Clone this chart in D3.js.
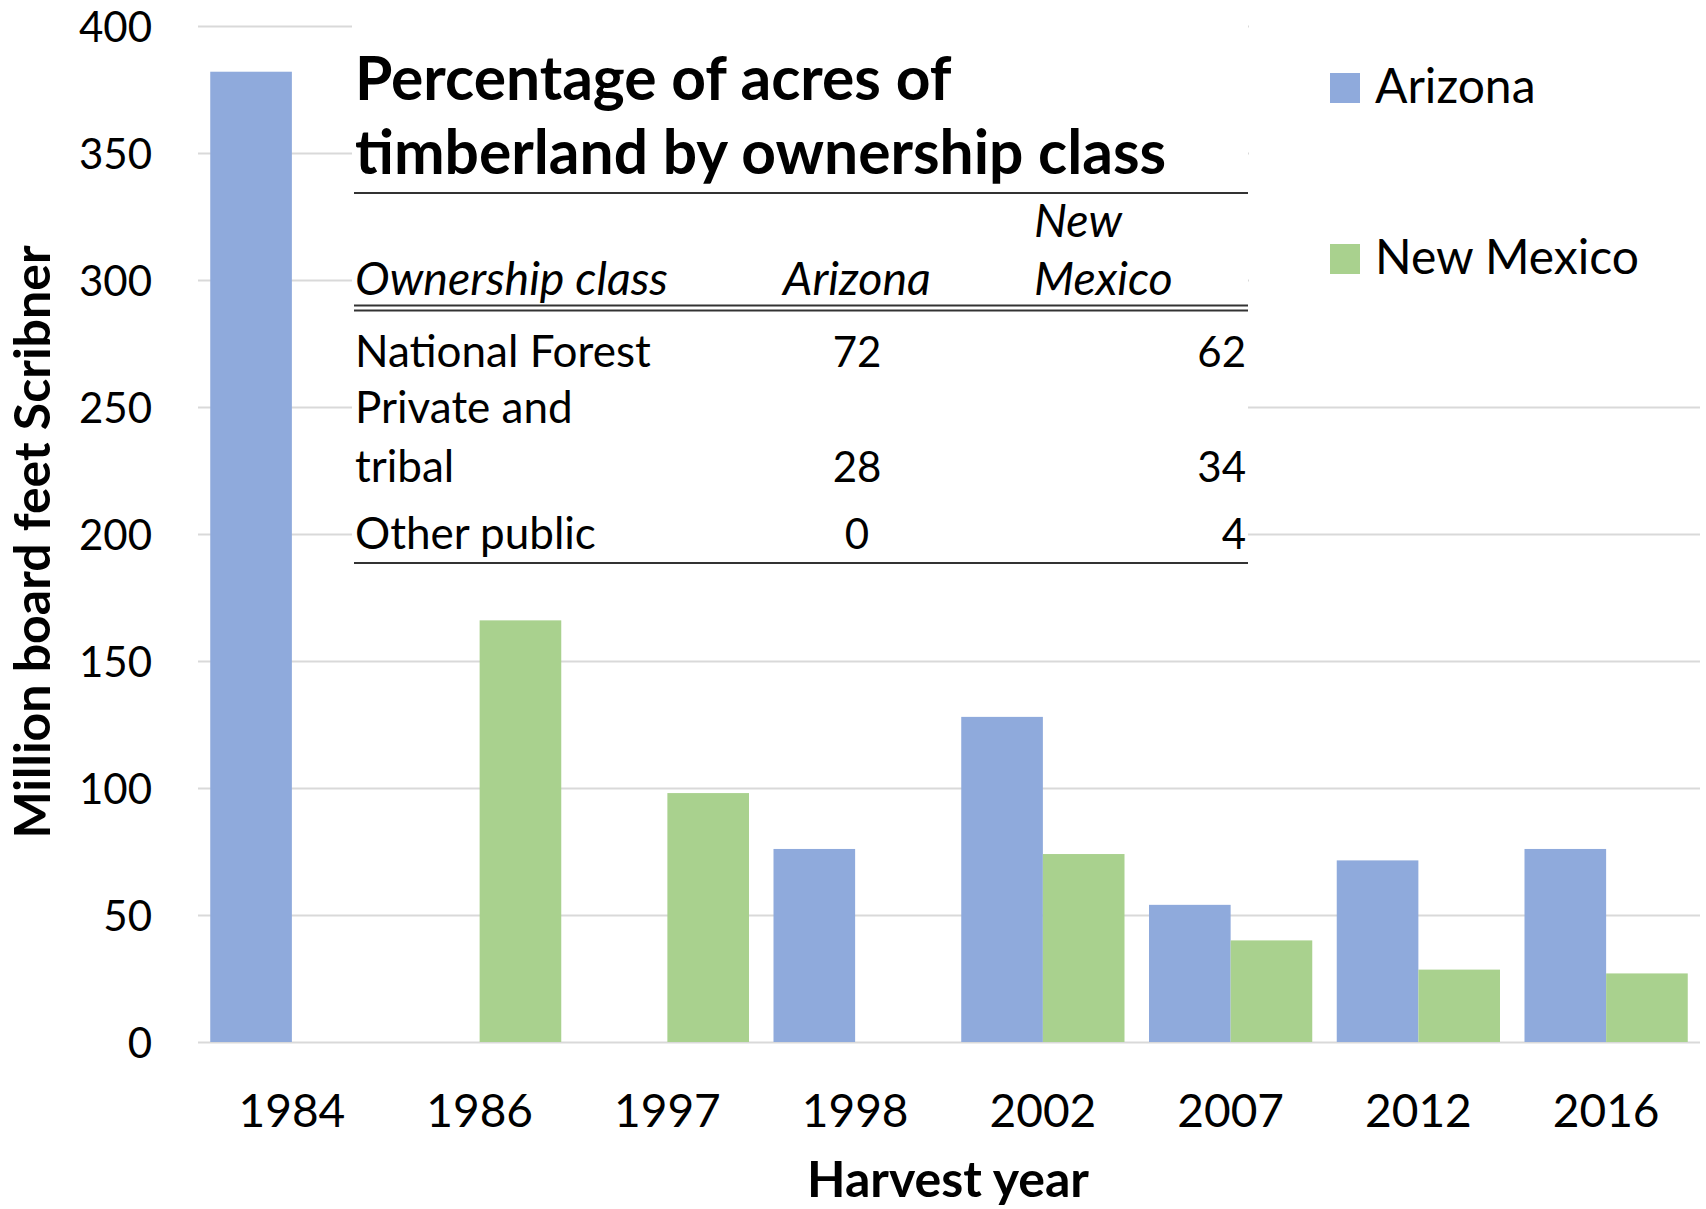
<!DOCTYPE html>
<html>
<head>
<meta charset="utf-8">
<script src="https://cdn.jsdelivr.net/npm/d3@7"></script>
<style>
  body { margin: 0; background: #fff; }
  svg text { font-family: Lato, "Open Sans", sans-serif; fill: #000; }
</style>
</head>
<body>
<div id="chart"></div>
<script>
// harvest by year, million board feet Scribner (null = no survey that year)
var years = ['1984', '1986', '1997', '1998', '2002', '2007', '2012', '2016'];
var arizona = [382, null, null, 76, 128, 54, 71.5, 76];
var newMexico = [null, 166, 98, null, 74, 40, 28.5, 27];
var seriesNames = ['Arizona', 'New Mexico'];
var seriesColors = ['#8faadc', '#a9d18e'];
var yTicks = [0, 50, 100, 150, 200, 250, 300, 350, 400];

// inset table: percentage of acres of timberland by ownership class
var ownershipClass = [['National Forest'], ['Private and', 'tribal'], ['Other public']];
var tableArizona = [72, 28, 0];
var tableNewMexico = [62, 34, 4];

var W = 1706, H = 1209;
var margin = { top: 26, right: 6, bottom: 167, left: 198 };
var width = W - margin.left - margin.right;
var height = H - margin.top - margin.bottom;

var svg = d3.select('#chart').append('svg')
  .attr('width', W)
  .attr('height', H);

var g = svg.append('g')
  .attr('transform', 'translate(' + margin.left + ',' + margin.top + ')');

var x = d3.scaleBand().domain(years).range([0, width]).padding(0);
var x1 = d3.scaleBand().domain(seriesNames).range([0, x.bandwidth()])
  .paddingInner(0).paddingOuter(0.15);
var y = d3.scaleLinear().domain([0, 400]).range([height, 0]);

// gridlines + y labels
var yAxis = g.append('g')
  .call(d3.axisLeft(y).tickValues(yTicks).tickSize(-width).tickPadding(46));
yAxis.select('.domain').remove();
yAxis.selectAll('line').attr('stroke', '#d9d9d9').attr('stroke-width', 2);
yAxis.selectAll('text').style('font-size', '42px').attr('dy', '0.36em');

// x labels
var xAxis = g.append('g')
  .attr('transform', 'translate(0,' + height + ')')
  .call(d3.axisBottom(x).tickSize(0));
xAxis.select('.domain').remove();
xAxis.selectAll('text')
  .attr('y', 85).attr('dy', 0)
  .style('font-size', '46px');

var rows = years.map(function (yr, i) {
  return { year: yr, values: [arizona[i], newMexico[i]] };
});

var groups = g.selectAll('.grp')
  .data(rows)
  .enter().append('g')
  .attr('class', 'grp')
  .attr('transform', function (d) { return 'translate(' + x(d.year) + ',0)'; });

groups.selectAll('rect')
  .data(function (d) {
    return d.values.map(function (v, k) { return { key: seriesNames[k], value: v, k: k }; })
      .filter(function (e) { return e.value != null; });
  })
  .enter().append('rect')
  .attr('x', function (d) { return x1(d.key); })
  .attr('width', x1.bandwidth())
  .attr('y', function (d) { return y(d.value); })
  .attr('height', function (d) { return height - y(d.value); })
  .attr('fill', function (d) { return seriesColors[d.k]; });

// axis titles
svg.append('text')
  .attr('x', 948).attr('y', 1197)
  .attr('text-anchor', 'middle')
  .style('font-size', '50px').style('font-weight', 'bold')
  .text('Harvest year');

svg.append('text')
  .attr('transform', 'translate(50,542) rotate(-90)')
  .attr('text-anchor', 'middle')
  .style('font-size', '50px').style('font-weight', 'bold')
  .text('Million board feet Scribner');

// legend (white box hides the gridlines behind it)
svg.append('rect')
  .attr('x', 1249).attr('y', 0).attr('width', W - 1249).attr('height', 340)
  .attr('fill', '#fff');

var legend = svg.selectAll('.legend')
  .data(seriesNames)
  .enter().append('g')
  .attr('class', 'legend')
  .attr('transform', function (d, i) { return 'translate(1330,' + (73 + i * 171) + ')'; });

legend.append('rect')
  .attr('width', 30).attr('height', 30)
  .attr('fill', function (d, i) { return seriesColors[i]; });

legend.append('text')
  .attr('x', 45).attr('y', 30)
  .style('font-size', '48px')
  .text(function (d) { return d; });

// inset table
var tbl = svg.append('g');
var tLeft = 354, tRight = 1248, colAZ = 857, colNM = 1034;

tbl.append('rect')
  .attr('x', tLeft - 2).attr('y', 0)
  .attr('width', tRight - tLeft + 2).attr('height', 575)
  .attr('fill', '#fff');

tbl.selectAll('.title')
  .data(['Percentage of acres of', 'timberland by ownership class'])
  .enter().append('text')
  .attr('x', tLeft + 1)
  .attr('y', function (d, i) { return 100 + i * 74; })
  .style('font-size', '60.5px').style('font-weight', 'bold')
  .text(function (d) { return d; });

function rule(yy, w) {
  tbl.append('line')
    .attr('x1', tLeft).attr('x2', tRight)
    .attr('y1', yy).attr('y2', yy)
    .attr('stroke', '#333').attr('stroke-width', w);
}
rule(193, 2);
rule(305.5, 1.8);
rule(310.5, 1.8);
rule(563, 2);

var head = tbl.append('g').style('font-size', '46.5px').style('font-style', 'italic');
head.append('text').attr('x', tLeft + 1).attr('y', 295).text('Ownership class');
head.append('text').attr('x', colAZ).attr('y', 295).attr('text-anchor', 'middle').text('Arizona');
head.append('text').attr('x', colNM).attr('y', 237).text('New');
head.append('text').attr('x', colNM).attr('y', 295).text('Mexico');

var rowBase = [367, 482, 549];
var lineGap = 59;

ownershipClass.forEach(function (lines, i) {
  var base = rowBase[i];
  lines.forEach(function (t, j) {
    tbl.append('text')
      .attr('x', tLeft + 1)
      .attr('y', base - (lines.length - 1 - j) * lineGap)
      .style('font-size', '44px')
      .text(t);
  });
  tbl.append('text')
    .attr('x', colAZ).attr('y', base)
    .attr('text-anchor', 'middle')
    .style('font-size', '42px')
    .text(tableArizona[i]);
  tbl.append('text')
    .attr('x', tRight - 2).attr('y', base)
    .attr('text-anchor', 'end')
    .style('font-size', '42px')
    .text(tableNewMexico[i]);
});
</script>
</body>
</html>
